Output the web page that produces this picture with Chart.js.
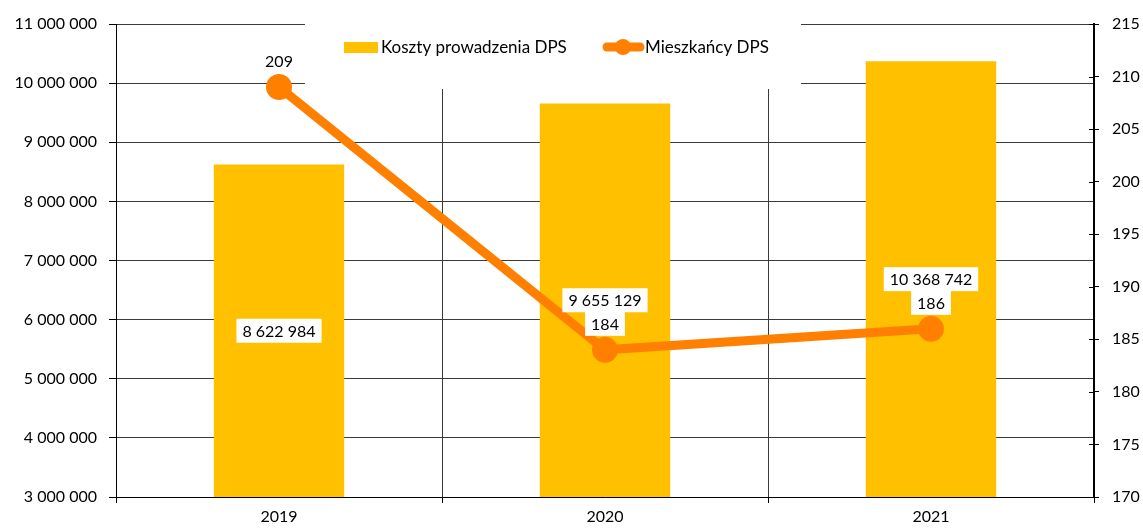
<!DOCTYPE html>
<html>
<head>
<meta charset="utf-8">
<script src="https://cdn.jsdelivr.net/npm/chart.js@4.4.1/dist/chart.umd.min.js"></script>
<style>
  body { margin: 0; background: #fff; }
  #wrap { width: 1143px; height: 528px; }
</style>
</head>
<body>
<div id="wrap"><canvas id="chart" width="1143" height="528"></canvas></div>
<script>
const years = ["2019", "2020", "2021"];
const costs = [8622984, 9655129, 10368742];
const residents = [209, 184, 186];

// axis ranges: [min, max, step]
const costAxis = [3000000, 11000000, 1000000];
const residentAxis = [170, 215, 5];

const costLabel = "Koszty prowadzenia DPS";
const residentLabel = "Mieszkańcy DPS";

const barColor = "#FFC000";
const lineColor = "#FF8000";
const gridColor = "#3a3a3a";
const fontFamily = "Lato, 'Open Sans', sans-serif";

function spaced(n) {
  return String(n).replace(/\B(?=(\d{3})+(?!\d))/g, " ");
}

function labelBox(ctx, text, x, y) {
  ctx.font = "16px " + fontFamily;
  const w = ctx.measureText(text).width + 12;
  const h = 24;
  ctx.fillStyle = "#fff";
  ctx.fillRect(x - w / 2, y - h / 2, w, h);
  ctx.fillStyle = "#000";
  ctx.textAlign = "center";
  ctx.textBaseline = "middle";
  ctx.fillText(text, x, y + 1);
}

// legend sits on a white box inside the plot, hiding the grid behind it
const legendBox = {
  id: "legendBox",
  beforeDatasetsDraw(chart) {
    const ctx = chart.ctx;
    ctx.save();
    ctx.fillStyle = "#fff";
    ctx.fillRect(305, 18, 496, 71);

    ctx.fillStyle = barColor;
    ctx.fillRect(344, 42, 34, 11);

    ctx.strokeStyle = lineColor;
    ctx.lineWidth = 9;
    ctx.lineCap = "round";
    ctx.beginPath();
    ctx.moveTo(607, 47);
    ctx.lineTo(640, 47);
    ctx.stroke();
    ctx.fillStyle = lineColor;
    ctx.beginPath();
    ctx.arc(623, 47, 8, 0, Math.PI * 2);
    ctx.fill();

    ctx.fillStyle = "#000";
    ctx.font = "17px " + fontFamily;
    ctx.textAlign = "left";
    ctx.textBaseline = "middle";
    ctx.fillText(costLabel, 381, 48);
    ctx.fillText(residentLabel, 645, 48);
    ctx.restore();
  }
};

// value labels: bar values in the middle of the visible bar, resident counts above the points
const valueLabels = {
  id: "valueLabels",
  afterDatasetsDraw(chart) {
    const ctx = chart.ctx;
    const bottom = chart.chartArea.bottom;
    ctx.save();
    const bars = chart.getDatasetMeta(1).data;
    const points = chart.getDatasetMeta(0).data;
    bars.forEach((bar, i) => {
      const mid = (bar.y + Math.min(bar.base, bottom)) / 2;
      labelBox(ctx, spaced(costs[i]), bar.x, mid);
    });
    points.forEach((pt, i) => {
      labelBox(ctx, String(residents[i]), pt.x, pt.y - 26);
    });
    ctx.restore();
  }
};

// short inner tick marks on the right axis
const rightTicks = {
  id: "rightTicks",
  afterDraw(chart) {
    const scale = chart.scales.y2;
    const ctx = chart.ctx;
    ctx.save();
    ctx.strokeStyle = "#000";
    ctx.lineWidth = 1;
    scale.ticks.forEach((t) => {
      const y = Math.round(scale.getPixelForValue(t.value)) + 0.5;
      ctx.beginPath();
      ctx.moveTo(chart.chartArea.right - 5, y);
      ctx.lineTo(chart.chartArea.right, y);
      ctx.stroke();
    });
    ctx.restore();
  }
};

new Chart(document.getElementById("chart"), {
  data: {
    labels: years,
    datasets: [
      {
        type: "line",
        label: residentLabel,
        data: residents,
        yAxisID: "y2",
        borderColor: lineColor,
        backgroundColor: lineColor,
        borderWidth: 9,
        pointRadius: 13,
        pointHoverRadius: 13,
        pointBorderWidth: 0,
        tension: 0,
        order: 0
      },
      {
        type: "bar",
        label: costLabel,
        data: costs,
        yAxisID: "y",
        backgroundColor: barColor,
        barPercentage: 0.4,
        categoryPercentage: 1,
        order: 1
      }
    ]
  },
  options: {
    responsive: false,
    animation: false,
    layout: { padding: { top: 24, left: 0, right: 0, bottom: 0 } },
    plugins: {
      legend: { display: false },
      tooltip: { enabled: false }
    },
    scales: {
      x: {
        offset: true,
        grid: { offset: true, color: gridColor, tickLength: 6, tickColor: "#000" },
        border: { color: "#000" },
        ticks: { color: "#000", font: { family: fontFamily, size: 16 }, padding: 4 },
        afterFit(scale) { scale.height = 31; }
      },
      y: {
        position: "left",
        min: costAxis[0],
        max: costAxis[1],
        grid: { color: gridColor, tickLength: 7, tickColor: "#000" },
        border: { color: "#000" },
        ticks: {
          stepSize: costAxis[2],
          color: "#000",
          padding: 12,
          font: { family: fontFamily, size: 16 },
          callback: (v) => spaced(v)
        },
        afterFit(scale) { scale.width = 116; }
      },
      y2: {
        position: "right",
        min: residentAxis[0],
        max: residentAxis[1],
        grid: { drawOnChartArea: false, tickLength: 5, tickColor: "#000" },
        border: { color: "#000", width: 2 },
        ticks: {
          stepSize: residentAxis[2],
          color: "#000",
          padding: 13,
          font: { family: fontFamily, size: 16 }
        },
        afterFit(scale) { scale.width = 49; }
      }
    }
  },
  plugins: [legendBox, valueLabels, rightTicks]
});
</script>
</body>
</html>
